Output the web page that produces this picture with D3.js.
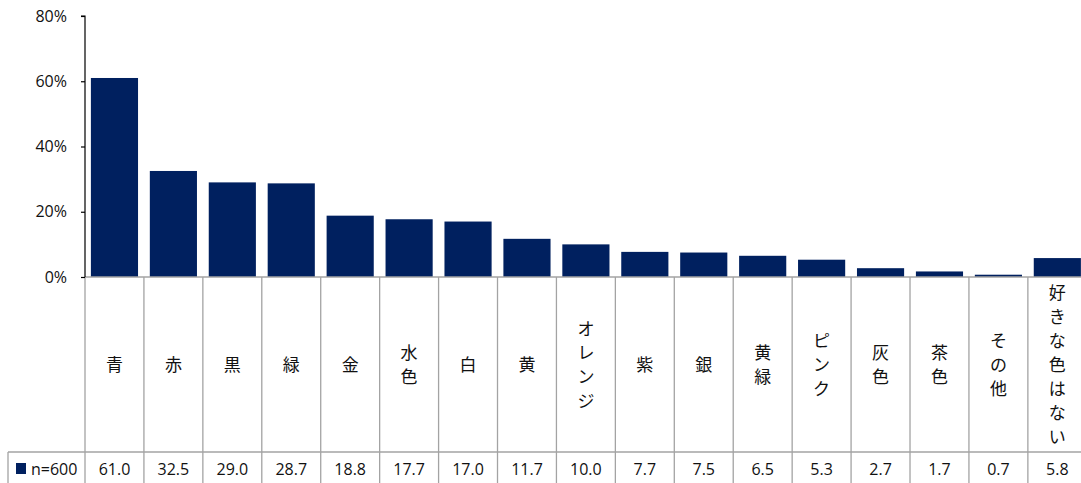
<!DOCTYPE html>
<html>
<head>
<meta charset="utf-8">
<script src="https://cdn.jsdelivr.net/npm/d3@7"></script>
<style>
  html, body { margin: 0; padding: 0; background: #fff; }
  svg { display: block; }
  text { font-family: "Open Sans", "Noto Sans", sans-serif; fill: #111; }
  .cat { font-family: "Noto Sans CJK JP", sans-serif; }
</style>
</head>
<body>
<script>
// Favourite colour survey, share of respondents (%)
const categories = ["青", "赤", "黒", "緑", "金", "水色", "白", "黄", "オレンジ", "紫", "銀", "黄緑", "ピンク", "灰色", "茶色", "その他", "好きな色はない"];
const values = [61.0, 32.5, 29.0, 28.7, 18.8, 17.7, 17.0, 11.7, 10.0, 7.7, 7.5, 6.5, 5.3, 2.7, 1.7, 0.7, 5.8];
const yTicks = [0, 20, 40, 60, 80];
const seriesName = "n=600";

const W = 1081, H = 483;
const barColor = "#00205f";
const gridColor = "#a3a3a3";

const svg = d3.select("body").append("svg").attr("width", W).attr("height", H);

const x = d3.scaleBand().domain(categories).range([85, 1086.8]).paddingInner(0.2).paddingOuter(0.1);
const y = d3.scaleLinear().domain([0, 80]).range([277, 16]);

const tableTop = y(0), rowTop = 452, tableBottom = 490;

// Bars
svg.append("g").selectAll("rect").data(values).join("rect")
  .attr("x", (d, i) => x(categories[i]))
  .attr("y", d => y(d))
  .attr("width", x.bandwidth())
  .attr("height", d => y(0) - y(d))
  .attr("fill", barColor);

// Data table grid under the plot
const step = x.step();
const edges = d3.range(categories.length + 1).map(i => x.range()[0] + i * step);
const grid = svg.append("g").attr("stroke", gridColor).attr("stroke-width", 1.3).attr("fill", "none");
grid.append("line").attr("x1", 85).attr("x2", W).attr("y1", tableTop).attr("y2", tableTop);
grid.append("line").attr("x1", 8).attr("x2", W).attr("y1", rowTop).attr("y2", rowTop);
grid.append("line").attr("x1", 8).attr("x2", 8).attr("y1", rowTop).attr("y2", tableBottom);
grid.selectAll("line.edge").data(edges).join("line").attr("class", "edge")
  .attr("x1", d => d).attr("x2", d => d).attr("y1", tableTop).attr("y2", tableBottom);

// Category labels, stacked vertically one character per line
const lineGap = 24;
const midY = (tableTop + rowTop) / 2;
const catG = svg.append("g");
categories.forEach(c => {
  const chars = Array.from(c);
  const cx = x(c) + x.bandwidth() / 2;
  const t = catG.append("text").attr("class", "cat")
    .attr("text-anchor", "middle").attr("font-size", 17);
  chars.forEach((ch, k) => {
    t.append("tspan").attr("x", cx)
      .attr("y", midY + (k - (chars.length - 1) / 2) * lineGap)
      .attr("dy", "0.36em").text(ch);
  });
});

// Value row
svg.append("g").selectAll("text").data(values).join("text")
  .attr("x", (d, i) => x(categories[i]) + x.bandwidth() / 2)
  .attr("y", 469).attr("dy", "0.36em")
  .attr("text-anchor", "middle").attr("font-size", 16)
  .text(d => d.toFixed(1));

// Legend key in the row header
svg.append("rect").attr("x", 16).attr("y", 463).attr("width", 10).attr("height", 11).attr("fill", barColor);
svg.append("text").attr("x", 31).attr("y", 469).attr("dy", "0.36em").attr("font-size", 16).text(seriesName);

// Y axis
const yAxis = d3.axisLeft(y).tickValues(yTicks).tickFormat(d => d + "%").tickSize(4).tickPadding(14);
const yg = svg.append("g").attr("transform", "translate(85,0)").call(yAxis);
yg.select(".domain").attr("stroke", "#000").attr("stroke-width", 1.2).attr("d", `M-4,${y(80)}H0V${y(0)}`);
yg.selectAll(".tick line").attr("stroke", "#000").attr("stroke-width", 1.2);
yg.selectAll(".tick text").attr("font-size", 16).attr("fill", "#111")
  .attr("font-family", "'Open Sans', sans-serif");
</script>
</body>
</html>
